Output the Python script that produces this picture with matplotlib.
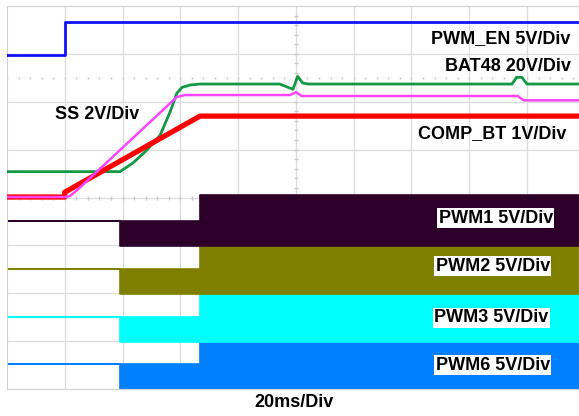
import matplotlib
matplotlib.use("Agg")
import matplotlib.pyplot as plt
import numpy as np

plt.rcParams['font.family'] = ['Liberation Sans', 'DejaVu Sans']

# all values in scope divisions (x: 20ms/div, y: 8 divisions tall)
en_t = [0, 1.0, 1.0, 9.9]
en_v = [6.98, 6.98, 7.67, 7.67]

bat_t = [0, 1.955, 2.18, 2.42, 2.65, 2.82, 2.94, 3.03, 3.17, 3.34, 4.72, 4.95,
         5.03, 5.12, 5.21, 8.74, 8.82, 8.91, 9.0, 9.9]
bat_v = [4.54, 4.54, 4.72, 4.99, 5.30, 5.78, 6.18, 6.30, 6.35, 6.37, 6.37, 6.26,
         6.53, 6.39, 6.37, 6.37, 6.51, 6.51, 6.37, 6.37]

ss_t = [0, 1.0, 1.09, 1.21, 2.94, 3.08, 4.90, 5.0, 5.10, 8.84, 8.94, 9.9]
ss_v = [4.01, 4.01, 4.03, 4.15, 6.10, 6.14, 6.14, 6.20, 6.12, 6.12, 6.03, 6.03]

comp_t = [0, 1.0, 1.0, 3.34, 9.9]
comp_v = [4.01, 4.01, 4.11, 5.70, 5.70]

# PWM channels: idle level, low level, high level after full start
pwm_names = ["PWM6", "PWM3", "PWM2", "PWM1"]
pwm_idle = [0.52, 1.50, 2.51, 3.51]
pwm_low = [0.0, 0.98, 1.98, 2.99]
pwm_high = [1.05, 2.06, 3.04, 4.05]
pwm_colors = ["#0080ff", "#00ffff", "#808000", "#2d0029"]
t_half = 1.955
t_full = 3.34

fig = plt.figure(figsize=(5.79, 4.16), dpi=100)
ax = fig.add_axes([7/579, 27/416, 1 - 7/579, 383/416])
ax.set_xlim(0, 9.9)
ax.set_ylim(0, 8)

# scope graticule
for gx in range(1, 10):
    ax.axvline(gx, color="#dcdcdc", lw=0.9, zorder=0)
for gy in range(1, 8):
    ax.axhline(gy, color="#dcdcdc", lw=0.9, zorder=0)
mt = np.arange(0, 9.9, 0.2)
ax.plot(mt, np.full_like(mt, 4.0), ls="none", marker="|", ms=3, color="#c8c8c8", zorder=0)
ax.plot(mt, np.full_like(mt, 6.5), ls="none", marker="|", ms=2, color="#c8c8c8", zorder=0)
mty = np.arange(0, 8, 0.2)
ax.plot(np.full_like(mty, 5.0), mty, ls="none", marker="_", ms=3, color="#c8c8c8", zorder=0)
for s in ax.spines.values():
    s.set_color("#d0d0d0")
ax.set_xticks([])
ax.set_yticks([])

for name, idle, low, high, c in zip(pwm_names, pwm_idle, pwm_low, pwm_high, pwm_colors):
    t = [0, t_half, t_half, t_full, t_full, 9.9]
    upper = [idle, idle, idle, idle, high, high]
    lower = [idle, idle, low, low, low, low]
    ax.fill_between(t, lower, upper, color=c, edgecolor=c, lw=1.2, zorder=2)

ax.plot(en_t, en_v, color="#1010ff", lw=2.0, zorder=3)
ax.plot(bat_t, bat_v, color="#119944", lw=2.0, zorder=3)
ax.plot(comp_t, comp_v, color="#ff0000", lw=3.8, zorder=3)
ax.plot(ss_t, ss_v, color="#ff44ff", lw=1.8, zorder=4)

lab = dict(fontsize=13, fontweight="bold", color="black", va="center", zorder=5)
ax.text(7.34, 7.32, "PWM_EN 5V/Div", **lab)
ax.text(7.58, 6.74, "BAT48 20V/Div", **lab)
ax.text(0.83, 5.74, "SS 2V/Div", **lab)
ax.text(7.11, 5.33, "COMP_BT 1V/Div", **lab)

box = dict(boxstyle="square,pad=0.08", facecolor="white", edgecolor="none")
ax.text(7.47, 3.57, "PWM1 5V/Div", bbox=box, **lab)
ax.text(7.42, 2.56, "PWM2 5V/Div", bbox=box, **lab)
ax.text(7.39, 1.49, "PWM3 5V/Div", bbox=box, **lab)
ax.text(7.42, 0.50, "PWM6 5V/Div", bbox=box, **lab)

ax.text(4.97, -0.29, "20ms/Div", ha="center", clip_on=False,
        **{k: v for k, v in lab.items() if k != "zorder"})

fig.savefig("out.png", dpi=100)
